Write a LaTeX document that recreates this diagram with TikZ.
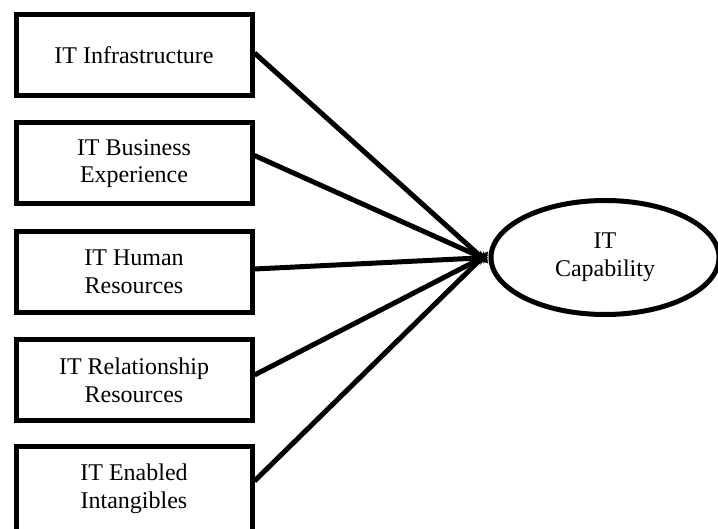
\documentclass[tikz,border=0pt]{standalone}
\usepackage{fontspec}
\setmainfont{Liberation Serif}
\usepackage{tikz}
\tikzset{>=stealth}
\usetikzlibrary{arrows.meta, shapes.geometric}

\tikzset{
  itbox/.style={draw, line width=5pt, minimum width=236pt, minimum height=81pt,
    align=center, inner sep=0pt, font=\fontsize{24}{27.6}\selectfont},
  capnode/.style={draw, ellipse, line width=5pt, minimum width=228pt, minimum height=114pt,
    align=center, inner sep=0pt, font=\fontsize{24}{27.6}\selectfont},
  link/.style={line width=5pt, -{Stealth[length=12pt,width=11pt]}}
}

\begin{document}
\begin{tikzpicture}[x=1pt,y=-1pt]
            \useasboundingbox (0,0) rectangle (718,529);
            \node[itbox] (infra) at (134,55) {IT Infrastructure};
            \node[itbox] (bus) at (134,163.5) {IT Business\\Experience};
            \node[itbox] (hum) at (134,272) {IT Human\\Resources};
            \node[itbox] (rel) at (134,380) {IT Relationship\\Resources};
            \node[itbox, minimum height=86pt] (intang) at (134,489) {IT Enabled\\Intangibles};
            \node[capnode] (cap) at (605,257.5) {IT\\Capability};
            \draw[link] ([yshift=2pt]infra.east) -- ([yshift=-6pt]cap.west);
            \draw[link] ([yshift=8pt]bus.east) -- ([yshift=-3pt]cap.west);
            \draw[link] ([yshift=3pt]hum.east) -- ([yshift=0pt]cap.west);
            \draw[link] ([yshift=5pt]rel.east) -- ([yshift=3pt]cap.west);
            \draw[link] ([yshift=8pt]intang.east) -- ([yshift=6pt]cap.west);
        \end{tikzpicture}
\end{document}
